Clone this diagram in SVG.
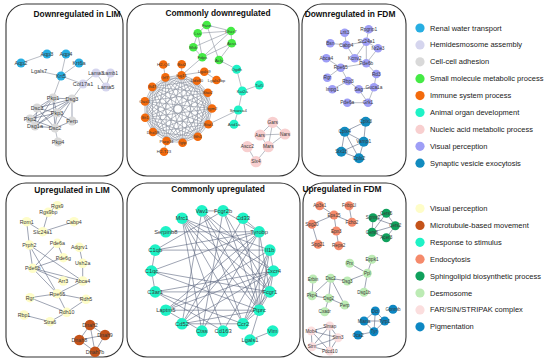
<svg xmlns="http://www.w3.org/2000/svg" width="550" height="363" viewBox="0 0 550 363">
<style>
text{font-family:"Liberation Sans",Arial,Helvetica,sans-serif}
.t{font-size:8.4px;font-weight:bold;fill:#111;text-anchor:middle;dominant-baseline:central}
.lg{font-size:7.5px;fill:#222;dominant-baseline:central}
.nd text{text-anchor:middle;dominant-baseline:central;fill:#3a3a3a}
.f55 text{font-size:5.5px}.f43 text{font-size:4.3px}.f48 text{font-size:4.8px}.f54 text{font-size:5.3px}.f58 text{font-size:5.8px}.f46 text{font-size:4.6px}
.nd text.sm{font-size:5px}
.panel{fill:none;stroke:#333;stroke-width:1.1}
.e{fill:none;stroke:#8a909e;stroke-width:0.6}
.e3{fill:none;stroke:#5d6780;stroke-width:0.6}
.c1{fill:#27aee2}.c2{fill:#d5d5ee}.c3{fill:#d9d9d9}.c4{fill:#45ea45}.c5{fill:#f36a0c}.c6{fill:#1ef2c6}.c7{fill:#f8cfcf}.c8{fill:#9e9ef6}.c9{fill:#128bbf}.cw{fill:#fff}
.d1{fill:#fefdc8}.d2{fill:#c4531a}.d3{fill:#1ef2c6}.d4{fill:#f58a6b}.d5{fill:#10a05c}.d6{fill:#bcebb4}.d7{fill:#fbdede}.d8{fill:#0d87c3}
</style>
<rect width="550" height="363" fill="#fff"/>
<g id="panels">
<rect class="panel" x="6" y="4" width="117" height="172" rx="20"/>
<rect class="panel" x="127" y="4" width="172" height="172" rx="20"/>
<rect class="panel" x="302" y="4" width="104" height="172" rx="20"/>
<rect class="panel" x="6" y="183" width="117" height="174" rx="20"/>
<rect class="panel" x="127" y="183" width="173" height="174" rx="20"/>
<rect class="panel" x="303" y="183" width="103" height="174" rx="20"/>
<text class="t" x="77" y="14">Downregulated in LIM</text>
<text class="t" x="218" y="13">Commonly downregulated</text>
<text class="t" x="350" y="14">Downregulated in FDM</text>
<text class="t" x="72" y="190">Upregulated in LIM</text>
<text class="t" x="218" y="189">Commonly upregulated</text>
<text class="t" x="342" y="189">Upregulated in FDM</text>
</g>
<g id="connectors">
<path class="e" d="M21 63L47 54M66 54L61 76M79 63L61 76M39 71L61 76M61 76L83 84M83 84L96 73M96 73L110.5 73M96 73L106 87M110.5 73L106 87M61 76L53 98M83 84L72 99"/>
<path class="e3" d="M53 98L72 99M53 98L37 108M53 98L57 113M53 98L30 119M53 98L55 128M53 98L35 126M72 99L37 108M72 99L57 113M72 99L72 121M72 99L55 128M72 99L35 126M72 99L30 119M37 108L57 113M37 108L35 126M37 108L55 128M57 113L55 128M57 113L30 119M57 113L35 126M57 113L72 121M30 119L55 128M55 128L35 126M55 128L72 121"/>
<path class="e" d="M55 128L58 142"/>
<g class="e">
<polygon points="181.6,75.2 196.9,80.7 207.8,92.7 212,108.5 208.4,124.3 197.8,136.7 182.6,142.7 166.5,141 152.9,132 145.1,117.7 144.9,101.4 152.2,86.9 165.4,77.4"/>
<polygon points="181.6,75.2 207.8,92.7 208.4,124.3 182.6,142.7 152.9,132 144.9,101.4 165.4,77.4 196.9,80.7 212,108.5 197.8,136.7 166.5,141 145.1,117.7 152.2,86.9"/>
<polygon points="181.6,75.2 212,108.5 182.6,142.7 145.1,117.7 165.4,77.4 207.8,92.7 197.8,136.7 152.9,132 152.2,86.9 196.9,80.7 208.4,124.3 166.5,141 144.9,101.4"/>
<polygon points="181.6,75.2 208.4,124.3 152.9,132 165.4,77.4 212,108.5 166.5,141 152.2,86.9 207.8,92.7 182.6,142.7 144.9,101.4 196.9,80.7 197.8,136.7 145.1,117.7"/>
<polygon points="181.6,75.2 197.8,136.7 144.9,101.4 207.8,92.7 166.5,141 165.4,77.4 208.4,124.3 145.1,117.7 196.9,80.7 182.6,142.7 152.2,86.9 212,108.5 152.9,132"/>
<polygon points="181.6,75.2 182.6,142.7 165.4,77.4 197.8,136.7 152.2,86.9 208.4,124.3 144.9,101.4 212,108.5 145.1,117.7 207.8,92.7 152.9,132 196.9,80.7 166.5,141"/>
</g>
<path class="e" d="M206.7 25L197.7 33.3M206.7 25L231 31M206.7 25L219 60M197.7 33.3L231 31M197.7 33.3L193.3 47.3M197.7 33.3L202.3 57.3M193.3 47.3L202.3 57.3M193.3 47.3L231 31M231 31L202.3 57.3M231 31L231.7 43.3M231.7 43.3L202.3 57.3M231.7 43.3L219 60M202.3 57.3L181.6 75.2M219 60L236.7 69.3"/>
<path class="e" d="M236.7 69.3L242.3 91M242.3 91L259.3 85M242.3 91L238.3 110M238.3 110L234 124.3M238.3 110L208.4 124.3"/>
<path class="e" d="M181.6 75.2L181.7 64.3M181.6 75.2L204.3 71.7M204.3 71.7L216.5 80M163.3 64.5L165.4 77.4M166.5 141L164 151.7"/>
<path class="e" d="M272.7 122.3L260 135M272.7 122.3L285 134M272.7 122.3L268.3 146.7M260 135L285 134M260 135L268.3 146.7M285 134L268.3 146.7M247.3 146.7L256 161.7M256 161.7L268.3 146.7"/>
<path class="e" d="M344.7 32.7L346.3 45M330.3 43.3L346.3 45M346.3 45L366.3 41.7M366.3 41.7L368.7 29.3M366.3 41.7L378 48.3M366.3 41.7L354.7 58.3M346.3 45L354.7 58.3M354.7 58.3L366.3 63.3M366.3 41.7L366.3 63.3M378 48.3L366.3 63.3M366.3 63.3L340.7 67.7M326.3 58.3L340.7 67.7M327.3 77.7L340.7 67.7M340.7 67.7L348 81M348 81L332.3 89.3M348 81L358.7 89.3M366.3 63.3L376.3 74M376.3 74L374 87.3M374 87.3L368 102.7M358.7 89.3L368 102.7M347.3 102.7L368 102.7M374 87.3L358.7 89.3"/>
<path class="e3" d="M365.7 121.7L344.7 131.7M365.7 121.7L363.7 141.7M344.7 131.7L363.7 141.7M344.7 131.7L341.3 151.7M344.7 131.7L359 158.3M363.7 141.7L341.3 151.7M363.7 141.7L359 158.3M341.3 151.7L359 158.3"/>
<path class="e3" d="M57.3 205.7L48.3 212.3M48.3 212.3L42.7 231.7M26.7 221.7L42.7 231.7M42.7 231.7L74 221.7M26.7 221.7L29.3 245M29.3 245L32.7 268.3M29.3 245L82.7 281M29.3 245L57.3 293.7M57.3 243.3L63.3 257.7M57.3 243.3L32.7 268.3M63.3 257.7L32.7 268.3M32.7 268.3L57.3 293.7M32.7 268.3L82.7 281M32.7 268.3L63.3 281M79.3 247.3L82.7 263.3M82.7 263.3L82.7 281M82.7 281L57.3 293.7M30 297.7L57.3 293.7M57.3 293.7L86 299.3M57.3 293.7L66.7 312.3M30 297.7L66.7 312.3M66.7 312.3L86 299.3M24 315L50 321.7M50 321.7L66.7 312.3"/>
<path class="e3" d="M90 325L105 335M90 325L79.3 340M90 325L95 351.7M105 335L79.3 340M105 335L95 351.7M79.3 340L95 351.7"/>
<path class="e3" d="M201.9 210.9L223.1 210.9M201.9 210.9L273.5 271M201.9 210.9L259.2 310.2M201.9 210.9L243 323.8M201.9 210.9L269.8 291.9M201.9 210.9L182 323.8M223.1 210.9L259.2 231.8M223.1 210.9L269.8 291.9M223.1 210.9L259.2 310.2M223.1 210.9L201.9 331.1M223.1 210.9L155.2 250.1M243 218.2L259.2 231.8M243 218.2L259.2 310.2M243 218.2L182 323.8M259.2 231.8L165.8 231.8M259.2 231.8L155.2 250.1M259.2 231.8L151.5 271M259.2 231.8L269.8 291.9M259.2 231.8L259.2 310.2M259.2 231.8L201.9 331.1M259.2 231.8L165.8 310.2M259.2 231.8L182 323.8M269.8 250.1L273.5 271M269.8 250.1L243 323.8M269.8 250.1L259.2 310.2M269.8 250.1L165.8 310.2M269.8 250.1L182 218.2M269.8 250.1L155.2 250.1M273.5 271L259.2 310.2M273.5 271L243 323.8M273.5 271L155.2 291.9M273.5 271L182 323.8M273.5 271L182 218.2M273.5 271L269.8 291.9M269.8 291.9L259.2 310.2M269.8 291.9L243 323.8M269.8 291.9L151.5 271M269.8 291.9L182 218.2M269.8 291.9L155.2 291.9M259.2 310.2L243 323.8M259.2 310.2L165.8 310.2M259.2 310.2L182 323.8M259.2 310.2L182 218.2M259.2 310.2L151.5 271M243 323.8L182 323.8M243 323.8L155.2 291.9M243 323.8L182 218.2M223.1 331.1L182 218.2M223.1 331.1L269.8 250.1M223.1 331.1L155.2 291.9M201.9 331.1L182 218.2M201.9 331.1L165.8 310.2M151.5 271L155.2 291.9M151.5 271L155.2 250.1M165.8 310.2L273.5 271M259.2 310.2L250 340M250 340L272.7 331"/>
<path class="e3" d="M319.7 205.7L334 215M334 215L352 222.3M349 205.7L352 222.3M334 215L312 224.3M334 215L336.3 231M336.3 231L338.7 245.7M312 224.3L318 244.3"/>
<path class="e3" d="M386.3 213.3L373 217.7M386.3 213.3L395.3 225.7M386.3 213.3L372 232.3M373 217.7L395.3 225.7M373 217.7L372 232.3M372 232.3L395.3 225.7M372 232.3L386.3 237.7M395.3 225.7L386.3 237.7"/>
<path class="e3" d="M349.7 263.3L367.3 273.3M372 259.3L367.3 273.3M367.3 273.3L347.3 281M367.3 273.3L364 292.3M330.7 278.3L347.3 281M330.7 278.3L312 295.7M330.7 278.3L328.7 298.3M330.7 278.3L344.7 305M313 279L312 295.7M312 295.7L328.7 298.3M328.7 298.3L344.7 305M328.7 298.3L324.7 311.7"/>
<path class="e3" d="M375.3 311L364 321M375.3 311L384.7 321M375.3 311L374 331.7M364 321L384.7 321M364 321L374 331.7M384.7 321L374 331.7M358 335L374 331.7"/>
<path class="e3" d="M329.7 326L311.3 331M329.7 326L338 337.7M329.7 326L312 346.7M329.7 326L329.7 351M311.3 331L338 337.7M311.3 331L312 346.7M311.3 331L329.7 351M338 337.7L312 346.7M338 337.7L329.7 351M312 346.7L329.7 351"/>
</g>
<g class="nd f55">
<g id="tl-Aqp2"><circle class="c1" cx="21" cy="63" r="4.5"/><text x="21" y="63">Aqp2</text></g>
<g id="tl-Aqp3"><circle class="c1" cx="47" cy="54" r="4.5"/><text x="47" y="54">Aqp3</text></g>
<g id="tl-Aqp4"><circle class="c1" cx="66" cy="54" r="4.5"/><text x="66" y="54">Aqp4</text></g>
<g id="tl-Lgals7"><circle class="cw" cx="39" cy="71" r="4.5"/><text x="39" y="71">Lgals7</text></g>
<g id="tl-Krt6a"><circle class="c1" cx="79" cy="63" r="4.5"/><text x="79" y="63">Krt6a</text></g>
<g id="tl-Krt5"><circle class="c1" cx="61" cy="76" r="4.5"/><text x="61" y="76">Krt5</text></g>
<g id="tl-Col17a1"><circle class="c2" cx="83" cy="84" r="4.5"/><text x="83" y="84">Col17a1</text></g>
<g id="tl-Lama3"><circle class="c2" cx="96" cy="73" r="4.5"/><text class="sm" x="96" y="73">Lama3</text></g>
<g id="tl-Lamb1"><circle class="c2" cx="110.5" cy="73" r="4.5"/><text class="sm" x="110.5" y="73">Lamb1</text></g>
<g id="tl-Lama5"><circle class="c2" cx="106" cy="87" r="4.5"/><text x="106" y="87">Lama5</text></g>
<g id="tl-Pkp1"><circle class="c3" cx="53" cy="98" r="4.5"/><text x="53" y="98">Pkp1</text></g>
<g id="tl-Dsg3"><circle class="c3" cx="72" cy="99" r="4.5"/><text x="72" y="99">Dsg3</text></g>
<g id="tl-Dsc3"><circle class="c3" cx="37" cy="108" r="4.5"/><text x="37" y="108">Dsc3</text></g>
<g id="tl-Pkp3"><circle class="c3" cx="57" cy="113" r="4.5"/><text x="57" y="113">Pkp3</text></g>
<g id="tl-Pkp2"><circle class="c3" cx="30" cy="119" r="4.5"/><text x="30" y="119">Pkp2</text></g>
<g id="tl-Perp"><circle class="c3" cx="72" cy="121" r="4.5"/><text x="72" y="121">Perp</text></g>
<g id="tl-Dsg1a"><circle class="c3" cx="35" cy="126" r="4.5"/><text x="35" y="126">Dsg1a</text></g>
<g id="tl-Dsc2"><circle class="c3" cx="55" cy="128" r="4.5"/><text x="55" y="128">Dsc2</text></g>
<g id="tl-Pkp4"><circle class="c3" cx="58" cy="142" r="4.5"/><text x="58" y="142">Pkp4</text></g>
</g>
<g class="nd f43">
<g id="tm-Fasn"><circle class="c4" cx="206.7" cy="25" r="4.3"/><text x="206.7" y="25">Fasn</text></g>
<g id="tm-Lss"><circle class="c4" cx="197.7" cy="33.3" r="4.3"/><text x="197.7" y="33.3">Lss</text></g>
<g id="tm-Dhcr7"><circle class="c4" cx="231" cy="31" r="4.3"/><text x="231" y="31">Dhcr7</text></g>
<g id="tm-Acss"><circle class="c4" cx="231.7" cy="43.3" r="4.3"/><text x="231.7" y="43.3">Acss</text></g>
<g id="tm-Mvk"><circle class="c4" cx="193.3" cy="47.3" r="4.3"/><text x="193.3" y="47.3">Mvk</text></g>
<g id="tm-Fdps"><circle class="c4" cx="202.3" cy="57.3" r="4.3"/><text x="202.3" y="57.3">Fdps</text></g>
<g id="tm-Acly"><circle class="c4" cx="219" cy="60" r="4.3"/><text x="219" y="60">Acly</text></g>
<g id="tm-Ogdh"><circle class="c6" cx="236.7" cy="69.3" r="4.5"/><text x="236.7" y="69.3">Ogdh</text></g>
<g id="tm-Taf5"><circle class="c6" cx="259.3" cy="85" r="4.5"/><text x="259.3" y="85">Taf5</text></g>
<g id="tm-Kat2a"><circle class="c6" cx="242.3" cy="91" r="4.5"/><text x="242.3" y="91">Kat2a</text></g>
<g id="tm-Smarca4"><circle class="c6" cx="238.3" cy="110" r="4.5"/><text x="238.3" y="110">Smarca4</text></g>
<g id="tm-Arid1a"><circle class="c6" cx="234" cy="124.3" r="4.5"/><text x="234" y="124.3">Arid1a</text></g>
<g id="tm-H2-Q4"><circle class="c5" cx="163.3" cy="64.5" r="4.3"/><text x="163.3" y="64.5">H2-Q4</text></g>
<g id="tm-Bst2"><circle class="c5" cx="181.7" cy="64.3" r="4.3"/><text x="181.7" y="64.3">Bst2</text></g>
<g id="tm-Lgals9"><circle class="c5" cx="204.3" cy="71.7" r="4.3"/><text x="204.3" y="71.7">Lgals9</text></g>
<g id="tm-Lgals3bp"><circle class="c5" cx="216.5" cy="80" r="4.3"/><text x="216.5" y="80">Lgals3bp</text></g>
<g id="tm-H2-T23"><circle class="c5" cx="164" cy="151.7" r="4.3"/><text x="164" y="151.7">H2-T23</text></g>
<g id="tm-Isg15"><circle class="c5" cx="181.6" cy="75.2" r="4.3"/><text x="181.6" y="75.2">Isg15</text></g>
<g id="tm-Ddx60"><circle class="c5" cx="196.9" cy="80.7" r="4.3"/><text x="196.9" y="80.7">Ddx60</text></g>
<g id="tm-Stat2"><circle class="c5" cx="207.8" cy="92.7" r="4.3"/><text x="207.8" y="92.7">Stat2</text></g>
<g id="tm-Irgm2"><circle class="c5" cx="212" cy="108.5" r="4.3"/><text x="212" y="108.5">Irgm2</text></g>
<g id="tm-Stat1"><circle class="c5" cx="208.4" cy="124.3" r="4.3"/><text x="208.4" y="124.3">Stat1</text></g>
<g id="tm-Ifih1"><circle class="c5" cx="197.8" cy="136.7" r="4.3"/><text x="197.8" y="136.7">Ifih1</text></g>
<g id="tm-Igtp"><circle class="c5" cx="182.6" cy="142.7" r="4.3"/><text x="182.6" y="142.7">Igtp</text></g>
<g id="tm-Parp14"><circle class="c5" cx="166.5" cy="141" r="4.3"/><text x="166.5" y="141">Parp14</text></g>
<g id="tm-Dhx58"><circle class="c5" cx="152.9" cy="132" r="4.3"/><text x="152.9" y="132">Dhx58</text></g>
<g id="tm-Ifit1"><circle class="c5" cx="145.1" cy="117.7" r="4.3"/><text x="145.1" y="117.7">Ifit1</text></g>
<g id="tm-Oasl1"><circle class="c5" cx="144.9" cy="101.4" r="4.3"/><text x="144.9" y="101.4">Oasl1</text></g>
<g id="tm-Ifi47"><circle class="c5" cx="152.2" cy="86.9" r="4.3"/><text x="152.2" y="86.9">Ifi47</text></g>
<g id="tm-Irf7"><circle class="c5" cx="165.4" cy="77.4" r="4.3"/><text x="165.4" y="77.4">Irf7</text></g>
</g>
<g class="nd f48">
<g id="tm-Gars"><circle class="c7" cx="272.7" cy="122.3" r="5.6"/><text x="272.7" y="122.3">Gars</text></g>
<g id="tm-Aars"><circle class="c7" cx="260" cy="135" r="5.6"/><text x="260" y="135">Aars</text></g>
<g id="tm-Nars"><circle class="c7" cx="285" cy="134" r="5.6"/><text x="285" y="134">Nars</text></g>
<g id="tm-Mars"><circle class="c7" cx="268.3" cy="146.7" r="5.6"/><text x="268.3" y="146.7">Mars</text></g>
<g id="tm-Ascc2"><circle class="c7" cx="247.3" cy="146.7" r="5.6"/><text x="247.3" y="146.7">Ascc2</text></g>
<g id="tm-Slx4"><circle class="c7" cx="256" cy="161.7" r="5.6"/><text x="256" y="161.7">Slx4</text></g>
<g id="tr-Rpgrip1"><circle class="c8" cx="368.7" cy="29.3" r="4.3"/><text x="368.7" y="29.3">Rpgrip1</text></g>
<g id="tr-Lrit3"><circle class="c8" cx="344.7" cy="32.7" r="4.3"/><text x="344.7" y="32.7">Lrit3</text></g>
<g id="tr-Slc24a1"><circle class="c8" cx="366.3" cy="41.7" r="4.3"/><text x="366.3" y="41.7">Slc24a1</text></g>
<g id="tr-Cabp4"><circle class="c8" cx="346.3" cy="45" r="4.3"/><text x="346.3" y="45">Cabp4</text></g>
<g id="tr-Bsn"><circle class="c8" cx="330.3" cy="43.3" r="4.3"/><text x="330.3" y="43.3">Bsn</text></g>
<g id="tr-Nr2e3"><circle class="c8" cx="378" cy="48.3" r="4.3"/><text x="378" y="48.3">Nr2e3</text></g>
<g id="tr-Kcnv2"><circle class="c8" cx="354.7" cy="58.3" r="4.3"/><text x="354.7" y="58.3">Kcnv2</text></g>
<g id="tr-Pde6b"><circle class="c8" cx="366.3" cy="63.3" r="4.3"/><text x="366.3" y="63.3">Pde6b</text></g>
<g id="tr-Abca4"><circle class="c8" cx="326.3" cy="58.3" r="4.3"/><text x="326.3" y="58.3">Abca4</text></g>
<g id="tr-Rpe65"><circle class="c8" cx="340.7" cy="67.7" r="4.3"/><text x="340.7" y="67.7">Rpe65</text></g>
<g id="tr-Rd3"><circle class="c8" cx="376.3" cy="74" r="4.3"/><text x="376.3" y="74">Rd3</text></g>
<g id="tr-Rgr"><circle class="c8" cx="327.3" cy="77.7" r="4.3"/><text x="327.3" y="77.7">Rgr</text></g>
<g id="tr-Rbp3"><circle class="c8" cx="348" cy="81" r="4.3"/><text x="348" y="81">Rbp3</text></g>
<g id="tr-Guca1a"><circle class="c8" cx="374" cy="87.3" r="4.3"/><text x="374" y="87.3">Guca1a</text></g>
<g id="tr-Impg1"><circle class="c8" cx="332.3" cy="89.3" r="4.3"/><text x="332.3" y="89.3">Impg1</text></g>
<g id="tr-Sag"><circle class="c8" cx="358.7" cy="89.3" r="4.3"/><text x="358.7" y="89.3">Sag</text></g>
<g id="tr-Pde6a"><circle class="c8" cx="347.3" cy="102.7" r="4.3"/><text x="347.3" y="102.7">Pde6a</text></g>
<g id="tr-Grk1"><circle class="c8" cx="368" cy="102.7" r="4.3"/><text x="368" y="102.7">Grk1</text></g>
<g id="tr-Cplx3"><circle class="c9" cx="365.7" cy="121.7" r="5"/><text x="365.7" y="121.7">Cplx3</text></g>
<g id="tr-Cplx4"><circle class="c9" cx="344.7" cy="131.7" r="5"/><text x="344.7" y="131.7">Cplx4</text></g>
<g id="tr-Vamp1"><circle class="c9" cx="363.7" cy="141.7" r="5"/><text x="363.7" y="141.7">Vamp1</text></g>
<g id="tr-Stx1b"><circle class="c9" cx="341.3" cy="151.7" r="5"/><text x="341.3" y="151.7">Stx1b</text></g>
<g id="tr-Cplx2"><circle class="c9" cx="359" cy="158.3" r="5"/><text x="359" y="158.3">Cplx2</text></g>
</g>
<g class="nd f54">
<g id="bl-Rgs9"><circle class="d1" cx="57.3" cy="205.7" r="4.8"/><text x="57.3" y="205.7">Rgs9</text></g>
<g id="bl-Rgs9bp"><circle class="d1" cx="48.3" cy="212.3" r="4.8"/><text x="48.3" y="212.3">Rgs9bp</text></g>
<g id="bl-Rom1"><circle class="d1" cx="26.7" cy="221.7" r="4.8"/><text x="26.7" y="221.7">Rom1</text></g>
<g id="bl-Cabp4"><circle class="d1" cx="74" cy="221.7" r="4.8"/><text x="74" y="221.7">Cabp4</text></g>
<g id="bl-Slc24a1"><circle class="d1" cx="42.7" cy="231.7" r="4.8"/><text x="42.7" y="231.7">Slc24a1</text></g>
<g id="bl-Prph2"><circle class="d1" cx="29.3" cy="245" r="4.8"/><text x="29.3" y="245">Prph2</text></g>
<g id="bl-Pde6a"><circle class="d1" cx="57.3" cy="243.3" r="4.8"/><text x="57.3" y="243.3">Pde6a</text></g>
<g id="bl-Adgrv1"><circle class="d1" cx="79.3" cy="247.3" r="4.8"/><text x="79.3" y="247.3">Adgrv1</text></g>
<g id="bl-Pde6g"><circle class="d1" cx="63.3" cy="257.7" r="4.8"/><text x="63.3" y="257.7">Pde6g</text></g>
<g id="bl-Ush2a"><circle class="d1" cx="82.7" cy="263.3" r="4.8"/><text x="82.7" y="263.3">Ush2a</text></g>
<g id="bl-Pde6b"><circle class="d1" cx="32.7" cy="268.3" r="4.8"/><text x="32.7" y="268.3">Pde6b</text></g>
<g id="bl-Arr3"><circle class="d1" cx="63.3" cy="281" r="4.8"/><text x="63.3" y="281">Arr3</text></g>
<g id="bl-Abca4"><circle class="d1" cx="82.7" cy="281" r="4.8"/><text x="82.7" y="281">Abca4</text></g>
<g id="bl-Rpe65"><circle class="d1" cx="57.3" cy="293.7" r="4.8"/><text x="57.3" y="293.7">Rpe65</text></g>
<g id="bl-Rgr"><circle class="d1" cx="30" cy="297.7" r="4.8"/><text x="30" y="297.7">Rgr</text></g>
<g id="bl-Rdh5"><circle class="d1" cx="86" cy="299.3" r="4.8"/><text x="86" y="299.3">Rdh5</text></g>
<g id="bl-Rdh10"><circle class="d1" cx="66.7" cy="312.3" r="4.8"/><text x="66.7" y="312.3">Rdh10</text></g>
<g id="bl-Rbp1"><circle class="d1" cx="24" cy="315" r="4.8"/><text x="24" y="315">Rbp1</text></g>
<g id="bl-Stra6"><circle class="d1" cx="50" cy="321.7" r="4.8"/><text x="50" y="321.7">Stra6</text></g>
<g id="bl-Dnah2"><circle class="d2" cx="90" cy="325" r="5.3"/><text x="90" y="325">Dnah2</text></g>
<g id="bl-Dnah9"><circle class="d2" cx="105" cy="335" r="5.3"/><text x="105" y="335">Dnah9</text></g>
<g id="bl-Dnah8"><circle class="d2" cx="79.3" cy="340" r="5.3"/><text x="79.3" y="340">Dnah8</text></g>
<g id="bl-Dnah7b"><circle class="d2" cx="95" cy="351.7" r="5.3"/><text x="95" y="351.7">Dnah7b</text></g>
</g>
<g class="nd f58">
<g id="bm-Vav1"><circle class="d3" cx="201.9" cy="210.9" r="5.8"/><text x="201.9" y="210.9">Vav1</text></g>
<g id="bm-Fcgr2b"><circle class="d3" cx="223.1" cy="210.9" r="5.8"/><text x="223.1" y="210.9">Fcgr2b</text></g>
<g id="bm-Cd33"><circle class="d3" cx="243" cy="218.2" r="5.8"/><text x="243" y="218.2">Cd33</text></g>
<g id="bm-Tyrobp"><circle class="d3" cx="259.2" cy="231.8" r="5.8"/><text x="259.2" y="231.8">Tyrobp</text></g>
<g id="bm-Il1b"><circle class="d3" cx="269.8" cy="250.1" r="5.8"/><text x="269.8" y="250.1">Il1b</text></g>
<g id="bm-Cxcr4"><circle class="d3" cx="273.5" cy="271" r="5.8"/><text x="273.5" y="271">Cxcr4</text></g>
<g id="bm-Fcgr1"><circle class="d3" cx="269.8" cy="291.9" r="5.8"/><text x="269.8" y="291.9">Fcgr1</text></g>
<g id="bm-Ptprc"><circle class="d3" cx="259.2" cy="310.2" r="5.8"/><text x="259.2" y="310.2">Ptprc</text></g>
<g id="bm-Ccr2"><circle class="d3" cx="243" cy="323.8" r="5.8"/><text x="243" y="323.8">Ccr2</text></g>
<g id="bm-Cd163"><circle class="d3" cx="223.1" cy="331.1" r="5.8"/><text x="223.1" y="331.1">Cd163</text></g>
<g id="bm-Ctss"><circle class="d3" cx="201.9" cy="331.1" r="5.8"/><text x="201.9" y="331.1">Ctss</text></g>
<g id="bm-Cd52"><circle class="d3" cx="182" cy="323.8" r="5.8"/><text x="182" y="323.8">Cd52</text></g>
<g id="bm-Laptm5"><circle class="d3" cx="165.8" cy="310.2" r="5.8"/><text x="165.8" y="310.2">Laptm5</text></g>
<g id="bm-C3ar1"><circle class="d3" cx="155.2" cy="291.9" r="5.8"/><text x="155.2" y="291.9">C3ar1</text></g>
<g id="bm-C1qc"><circle class="d3" cx="151.5" cy="271" r="5.8"/><text x="151.5" y="271">C1qc</text></g>
<g id="bm-C1qb"><circle class="d3" cx="155.2" cy="250.1" r="5.8"/><text x="155.2" y="250.1">C1qb</text></g>
<g id="bm-Serpinb8"><circle class="d3" cx="165.8" cy="231.8" r="5.8"/><text x="165.8" y="231.8">Serpinb8</text></g>
<g id="bm-Mrc1"><circle class="d3" cx="182" cy="218.2" r="5.8"/><text x="182" y="218.2">Mrc1</text></g>
<g id="bm-Lgals1"><circle class="d3" cx="250" cy="340" r="5.8"/><text x="250" y="340">Lgals1</text></g>
<g id="bm-Vim"><circle class="d3" cx="272.7" cy="331" r="5.8"/><text x="272.7" y="331">Vim</text></g>
</g>
<g class="nd f46">
<g id="br-Ap3s1"><circle class="d4" cx="319.7" cy="205.7" r="4.5"/><text x="319.7" y="205.7">Ap3s1</text></g>
<g id="br-Fnbp1l"><circle class="d4" cx="349" cy="205.7" r="4.5"/><text x="349" y="205.7">Fnbp1l</text></g>
<g id="br-Eps15"><circle class="d4" cx="334" cy="215" r="4.5"/><text x="334" y="215">Eps15</text></g>
<g id="br-Spg20"><circle class="d4" cx="312" cy="224.3" r="4.5"/><text x="312" y="224.3">Spg20</text></g>
<g id="br-Fcho2"><circle class="d4" cx="352" cy="222.3" r="4.5"/><text x="352" y="222.3">Fcho2</text></g>
<g id="br-Epn3"><circle class="d4" cx="336.3" cy="231" r="4.5"/><text x="336.3" y="231">Epn3</text></g>
<g id="br-Spg21"><circle class="d4" cx="318" cy="244.3" r="4.5"/><text x="318" y="244.3">Spg21</text></g>
<g id="br-Reps2"><circle class="d4" cx="338.7" cy="245.7" r="4.5"/><text x="338.7" y="245.7">Reps2</text></g>
<g id="br-Cers5"><circle class="d5" cx="386.3" cy="213.3" r="4.5"/><text x="386.3" y="213.3">Cers5</text></g>
<g id="br-Sgms2"><circle class="d5" cx="373" cy="217.7" r="4.5"/><text x="373" y="217.7">Sgms2</text></g>
<g id="br-Cers2"><circle class="d5" cx="395.3" cy="225.7" r="4.5"/><text x="395.3" y="225.7">Cers2</text></g>
<g id="br-Cers6"><circle class="d5" cx="372" cy="232.3" r="4.5"/><text x="372" y="232.3">Cers6</text></g>
<g id="br-Acer3"><circle class="d5" cx="386.3" cy="237.7" r="4.5"/><text x="386.3" y="237.7">Acer3</text></g>
<g id="br-Prx"><circle class="d6" cx="349.7" cy="263.3" r="4.5"/><text x="349.7" y="263.3">Prx</text></g>
<g id="br-Eppk1"><circle class="d6" cx="372" cy="259.3" r="4.5"/><text x="372" y="259.3">Eppk1</text></g>
<g id="br-Ppl"><circle class="d6" cx="367.3" cy="273.3" r="4.5"/><text x="367.3" y="273.3">Ppl</text></g>
<g id="br-Erbin"><circle class="d6" cx="313" cy="279" r="4.5"/><text x="313" y="279">Erbin</text></g>
<g id="br-Dsc2"><circle class="d6" cx="330.7" cy="278.3" r="4.5"/><text x="330.7" y="278.3">Dsc2</text></g>
<g id="br-Dsg3"><circle class="d6" cx="347.3" cy="281" r="4.5"/><text x="347.3" y="281">Dsg3</text></g>
<g id="br-Pkp4"><circle class="d6" cx="312" cy="295.7" r="4.5"/><text x="312" y="295.7">Pkp4</text></g>
<g id="br-Dsg2"><circle class="d6" cx="328.7" cy="298.3" r="4.5"/><text x="328.7" y="298.3">Dsg2</text></g>
<g id="br-Dsg1b"><circle class="d6" cx="364" cy="292.3" r="4.5"/><text x="364" y="292.3">Dsg1b</text></g>
<g id="br-Perp"><circle class="d6" cx="344.7" cy="305" r="4.5"/><text x="344.7" y="305">Perp</text></g>
<g id="br-Cxadr"><circle class="d6" cx="324.7" cy="311.7" r="4.5"/><text x="324.7" y="311.7">Cxadr</text></g>
<g id="br-Dct"><circle class="d8" cx="375.3" cy="311" r="4.5"/><text x="375.3" y="311">Dct</text></g>
<g id="br-Gpnmb"><circle class="d8" cx="393" cy="309.3" r="4.5"/><text x="393" y="309.3">Gpnmb</text></g>
<g id="br-Mlana"><circle class="d8" cx="364" cy="321" r="4.5"/><text x="364" y="321">Mlana</text></g>
<g id="br-Tyrp1"><circle class="d8" cx="384.7" cy="321" r="4.5"/><text x="384.7" y="321">Tyrp1</text></g>
<g id="br-Oca2"><circle class="d8" cx="358" cy="335" r="4.5"/><text x="358" y="335">Oca2</text></g>
<g id="br-Tyr"><circle class="d8" cx="374" cy="331.7" r="4.5"/><text x="374" y="331.7">Tyr</text></g>
<g id="br-Slmap"><circle class="d7" cx="329.7" cy="326" r="4.5"/><text x="329.7" y="326">Slmap</text></g>
<g id="br-Mob4"><circle class="d7" cx="311.3" cy="331" r="4.5"/><text x="311.3" y="331">Mob4</text></g>
<g id="br-Strn3"><circle class="d7" cx="338" cy="337.7" r="4.5"/><text x="338" y="337.7">Strn3</text></g>
<g id="br-Strn"><circle class="d7" cx="312" cy="346.7" r="4.5"/><text x="312" y="346.7">Strn</text></g>
<g id="br-Pdcd10"><circle class="d7" cx="329.7" cy="351" r="4.5"/><text x="329.7" y="351">Pdcd10</text></g>
</g>
<g id="legend-top">
<g id="lg-renal"><circle class="c1" cx="420" cy="28" r="4.6"/><text class="lg" x="430" y="28">Renal water transport</text></g>
<g id="lg-hemi"><circle class="c2" cx="420" cy="44.9" r="4.6"/><text class="lg" x="430" y="44.9">Hemidesmosome assembly</text></g>
<g id="lg-cell"><circle class="c3" cx="420" cy="61.8" r="4.6"/><text class="lg" x="430" y="61.8">Cell-cell adhesion</text></g>
<g id="lg-small"><circle class="c4" cx="420" cy="78.7" r="4.6"/><text class="lg" x="430" y="78.7">Small molecule metabolic process</text></g>
<g id="lg-immune"><circle class="c5" cx="420" cy="95.6" r="4.6"/><text class="lg" x="430" y="95.6">Immune system process</text></g>
<g id="lg-animal"><circle class="c6" cx="420" cy="112.5" r="4.6"/><text class="lg" x="430" y="112.5">Animal organ development</text></g>
<g id="lg-nucleic"><circle class="c7" cx="420" cy="129.4" r="4.6"/><text class="lg" x="430" y="129.4">Nucleic acid metabolic process</text></g>
<g id="lg-visual"><circle class="c8" cx="420" cy="146.3" r="4.6"/><text class="lg" x="430" y="146.3">Visual perception</text></g>
<g id="lg-synaptic"><circle class="c9" cx="420" cy="163.2" r="4.6"/><text class="lg" x="430" y="163.2">Synaptic vesicle exocytosis</text></g>
</g>
<g id="legend-bottom">
<g id="lg-visual2"><circle class="d1" cx="420" cy="208.5" r="4.6"/><text class="lg" x="430" y="208.5">Visual perception</text></g>
<g id="lg-micro"><circle class="d2" cx="420" cy="225.4" r="4.6"/><text class="lg" x="430" y="225.4">Microtubule-based movement</text></g>
<g id="lg-response"><circle class="d3" cx="420" cy="242.3" r="4.6"/><text class="lg" x="430" y="242.3">Response to stimulus</text></g>
<g id="lg-endo"><circle class="d4" cx="420" cy="259.2" r="4.6"/><text class="lg" x="430" y="259.2">Endocytosis</text></g>
<g id="lg-sphingo"><circle class="d5" cx="420" cy="276.1" r="4.6"/><text class="lg" x="430" y="276.1">Sphingolipid biosynthetic process</text></g>
<g id="lg-desmo"><circle class="d6" cx="420" cy="293" r="4.6"/><text class="lg" x="430" y="293">Desmosome</text></g>
<g id="lg-far"><circle class="d7" cx="420" cy="309.9" r="4.6"/><text class="lg" x="430" y="309.9">FAR/SIN/STRIPAK complex</text></g>
<g id="lg-pig"><circle class="d8" cx="420" cy="326.8" r="4.6"/><text class="lg" x="430" y="326.8">Pigmentation</text></g>
</g>
</svg>
